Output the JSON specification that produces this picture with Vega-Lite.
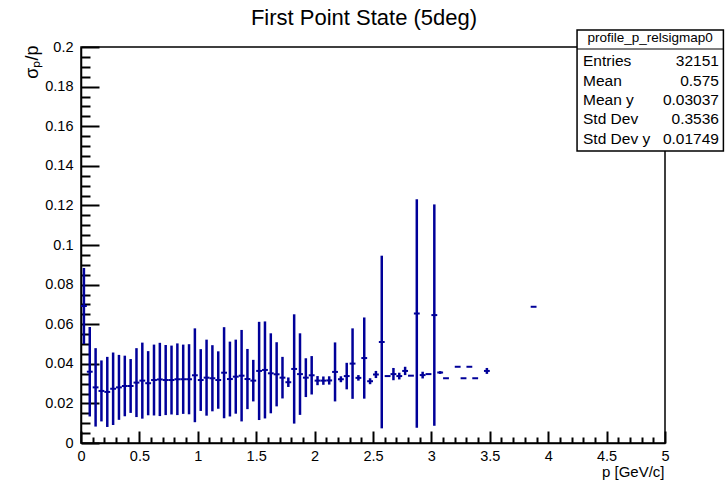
{
  "$schema": "https://vega.github.io/schema/vega-lite/v6.json",
  "width": 584,
  "height": 396,
  "autosize": "none",
  "padding": {"left": 81, "top": 47, "right": 62, "bottom": 39},
  "background": "white",
  "title": {
    "text": "First Point State (5deg)",
    "font": "Liberation Sans",
    "fontSize": 22,
    "fontWeight": "normal",
    "color": "black",
    "anchor": "middle",
    "frame": "group",
    "baseline": "alphabetic",
    "dx": -9,
    "dy": 21,
    "offset": 3
  },
  "config": {
    "font": "Liberation Sans",
    "view": {"stroke": "black", "strokeWidth": 1.5},
    "axis": {
      "grid": false,
      "labelFont": "Liberation Sans",
      "labelColor": "black",
      "titleFont": "Liberation Sans",
      "titleColor": "black",
      "titleFontWeight": "normal",
      "tickColor": "black",
      "domainColor": "black"
    }
  },
  "datasets": {
    "profile": [
      {"lo": 0.00, "hi": 0.05, "p": 0.025, "mean": 0.0692, "err": 0.0192},
      {"lo": 0.05, "hi": 0.10, "p": 0.075, "mean": 0.0360, "err": 0.0226},
      {"lo": 0.10, "hi": 0.15, "p": 0.125, "mean": 0.0281, "err": 0.0198},
      {"lo": 0.15, "hi": 0.20, "p": 0.175, "mean": 0.0263, "err": 0.0154},
      {"lo": 0.20, "hi": 0.25, "p": 0.225, "mean": 0.0258, "err": 0.0177},
      {"lo": 0.25, "hi": 0.30, "p": 0.275, "mean": 0.0274, "err": 0.0183},
      {"lo": 0.30, "hi": 0.35, "p": 0.325, "mean": 0.0281, "err": 0.0164},
      {"lo": 0.35, "hi": 0.40, "p": 0.375, "mean": 0.0288, "err": 0.0153},
      {"lo": 0.40, "hi": 0.45, "p": 0.425, "mean": 0.0288, "err": 0.0136},
      {"lo": 0.45, "hi": 0.50, "p": 0.475, "mean": 0.0305, "err": 0.0174},
      {"lo": 0.50, "hi": 0.55, "p": 0.525, "mean": 0.0315, "err": 0.0192},
      {"lo": 0.55, "hi": 0.60, "p": 0.575, "mean": 0.0302, "err": 0.0162},
      {"lo": 0.60, "hi": 0.65, "p": 0.625, "mean": 0.0318, "err": 0.0179},
      {"lo": 0.65, "hi": 0.70, "p": 0.675, "mean": 0.0321, "err": 0.0185},
      {"lo": 0.70, "hi": 0.75, "p": 0.725, "mean": 0.0318, "err": 0.0177},
      {"lo": 0.75, "hi": 0.80, "p": 0.775, "mean": 0.0318, "err": 0.0174},
      {"lo": 0.80, "hi": 0.85, "p": 0.825, "mean": 0.0322, "err": 0.0181},
      {"lo": 0.85, "hi": 0.90, "p": 0.875, "mean": 0.0322, "err": 0.0175},
      {"lo": 0.90, "hi": 0.95, "p": 0.925, "mean": 0.0322, "err": 0.0177},
      {"lo": 0.95, "hi": 1.00, "p": 0.975, "mean": 0.0342, "err": 0.0237},
      {"lo": 1.00, "hi": 1.05, "p": 1.025, "mean": 0.0318, "err": 0.0156},
      {"lo": 1.05, "hi": 1.10, "p": 1.075, "mean": 0.0330, "err": 0.0192},
      {"lo": 1.10, "hi": 1.15, "p": 1.125, "mean": 0.0327, "err": 0.0167},
      {"lo": 1.15, "hi": 1.20, "p": 1.175, "mean": 0.0318, "err": 0.0145},
      {"lo": 1.20, "hi": 1.25, "p": 1.225, "mean": 0.0355, "err": 0.0230},
      {"lo": 1.25, "hi": 1.30, "p": 1.275, "mean": 0.0323, "err": 0.0189},
      {"lo": 1.30, "hi": 1.35, "p": 1.325, "mean": 0.0335, "err": 0.0187},
      {"lo": 1.35, "hi": 1.40, "p": 1.375, "mean": 0.0340, "err": 0.0231},
      {"lo": 1.40, "hi": 1.45, "p": 1.425, "mean": 0.0323, "err": 0.0152},
      {"lo": 1.45, "hi": 1.50, "p": 1.475, "mean": 0.0315, "err": 0.0105},
      {"lo": 1.50, "hi": 1.55, "p": 1.525, "mean": 0.0364, "err": 0.0248},
      {"lo": 1.55, "hi": 1.60, "p": 1.575, "mean": 0.0369, "err": 0.0245},
      {"lo": 1.60, "hi": 1.65, "p": 1.625, "mean": 0.0352, "err": 0.0202},
      {"lo": 1.65, "hi": 1.70, "p": 1.675, "mean": 0.0347, "err": 0.0162},
      {"lo": 1.70, "hi": 1.75, "p": 1.725, "mean": 0.0330, "err": 0.0105},
      {"lo": 1.75, "hi": 1.80, "p": 1.775, "mean": 0.0307, "err": 0.0024},
      {"lo": 1.80, "hi": 1.85, "p": 1.825, "mean": 0.0374, "err": 0.0276},
      {"lo": 1.85, "hi": 1.90, "p": 1.875, "mean": 0.0348, "err": 0.0206},
      {"lo": 1.90, "hi": 1.95, "p": 1.925, "mean": 0.0330, "err": 0.0098},
      {"lo": 1.95, "hi": 2.00, "p": 1.975, "mean": 0.0342, "err": 0.0097},
      {"lo": 2.00, "hi": 2.05, "p": 2.025, "mean": 0.0315, "err": 0.0023},
      {"lo": 2.05, "hi": 2.10, "p": 2.075, "mean": 0.0315, "err": 0.0021},
      {"lo": 2.10, "hi": 2.15, "p": 2.125, "mean": 0.0316, "err": 0.0021},
      {"lo": 2.15, "hi": 2.20, "p": 2.175, "mean": 0.0359, "err": 0.0149},
      {"lo": 2.20, "hi": 2.25, "p": 2.225, "mean": 0.0322, "err": 0.0015},
      {"lo": 2.25, "hi": 2.30, "p": 2.275, "mean": 0.0338, "err": 0.0067},
      {"lo": 2.30, "hi": 2.35, "p": 2.325, "mean": 0.0401, "err": 0.0178},
      {"lo": 2.35, "hi": 2.40, "p": 2.375, "mean": 0.0329, "err": 0.0014},
      {"lo": 2.40, "hi": 2.45, "p": 2.425, "mean": 0.0429, "err": 0.0205},
      {"lo": 2.45, "hi": 2.50, "p": 2.475, "mean": 0.0312, "err": 0.0015},
      {"lo": 2.50, "hi": 2.55, "p": 2.525, "mean": 0.0346, "err": 0.0018},
      {"lo": 2.55, "hi": 2.60, "p": 2.575, "mean": 0.0510, "err": 0.0436},
      {"lo": 2.60, "hi": 2.65, "p": 2.625, "mean": 0.0338, "err": 0.0},
      {"lo": 2.65, "hi": 2.70, "p": 2.675, "mean": 0.0348, "err": 0.0031},
      {"lo": 2.70, "hi": 2.75, "p": 2.725, "mean": 0.0338, "err": 0.0017},
      {"lo": 2.75, "hi": 2.80, "p": 2.775, "mean": 0.0364, "err": 0.0021},
      {"lo": 2.80, "hi": 2.85, "p": 2.825, "mean": 0.0340, "err": 0.0},
      {"lo": 2.85, "hi": 2.90, "p": 2.875, "mean": 0.0654, "err": 0.0577},
      {"lo": 2.90, "hi": 2.95, "p": 2.925, "mean": 0.0343, "err": 0.0017},
      {"lo": 2.95, "hi": 3.00, "p": 2.975, "mean": 0.0348, "err": 0.0},
      {"lo": 3.00, "hi": 3.05, "p": 3.025, "mean": 0.0646, "err": 0.0559},
      {"lo": 3.05, "hi": 3.10, "p": 3.075, "mean": 0.0356, "err": 0.0007},
      {"lo": 3.10, "hi": 3.15, "p": 3.125, "mean": 0.0327, "err": 0.0},
      {"lo": 3.20, "hi": 3.25, "p": 3.225, "mean": 0.0385, "err": 0.0},
      {"lo": 3.25, "hi": 3.30, "p": 3.275, "mean": 0.0327, "err": 0.0},
      {"lo": 3.30, "hi": 3.35, "p": 3.325, "mean": 0.0385, "err": 0.0},
      {"lo": 3.35, "hi": 3.40, "p": 3.375, "mean": 0.0327, "err": 0.0},
      {"lo": 3.45, "hi": 3.50, "p": 3.475, "mean": 0.0364, "err": 0.0015},
      {"lo": 3.85, "hi": 3.90, "p": 3.875, "mean": 0.0688, "err": 0.0}
    ],
    "stats": [
      {"k": 1, "name": "Entries", "value": "32151"},
      {"k": 2, "name": "Mean", "value": "0.575"},
      {"k": 3, "name": "Mean y", "value": "0.03037"},
      {"k": 4, "name": "Std Dev", "value": "0.3536"},
      {"k": 5, "name": "Std Dev y", "value": "0.01749"}
    ]
  },
  "layer": [
    {
      "layer": [
        {
          "data": {"name": "profile"},
          "mark": {"type": "errorbar", "ticks": false, "color": "#000099", "thickness": 2.5},
          "encoding": {
            "x": {
              "field": "p", "type": "quantitative",
              "scale": {"domain": [0, 5], "nice": false, "zero": false},
              "axis": {
                "orient": "bottom",
                "values": [0, 0.5, 1, 1.5, 2, 2.5, 3, 3.5, 4, 4.5, 5],
                "format": ".1~f",
                "tickSize": -12, "tickWidth": 2,
                "domainWidth": 1.5,
                "labelFontSize": 14.5, "labelPadding": 18, "labelFlush": false,
                "title": "p [GeV/c]", "titleFontSize": 15,
                "titleAnchor": "end", "titleAlign": "right", "titleBaseline": "middle",
                "titleX": 583, "titleY": 28
              }
            },
            "y": {
              "field": "mean", "type": "quantitative",
              "scale": {"domain": [0, 0.2], "nice": false, "zero": false},
              "axis": {
                "orient": "left",
                "values": [0, 0.02, 0.04, 0.06, 0.08, 0.1, 0.12, 0.14, 0.16, 0.18, 0.2],
                "format": ".2~f",
                "tickSize": -18, "tickWidth": 2,
                "domainWidth": 1.5,
                "labelFontSize": 14.5, "labelPadding": 26, "labelFlush": false,
                "title": "σₚ/p", "titleFontSize": 18,
                "titleAngle": -90, "titleAlign": "right", "titleBaseline": "middle",
                "titleX": -49, "titleY": -2
              }
            },
            "yError": {"field": "err"}
          }
        },
        {
          "data": {"name": "profile"},
          "mark": {"type": "rule", "color": "#000099", "strokeWidth": 2},
          "encoding": {
            "x": {
              "field": "lo", "type": "quantitative",
              "scale": {"domain": [0, 5], "nice": false, "zero": false},
              "axis": {
                "orient": "bottom",
                "values": [0.1, 0.2, 0.3, 0.4, 0.6, 0.7, 0.8, 0.9, 1.1, 1.2, 1.3, 1.4, 1.6, 1.7, 1.8, 1.9, 2.1, 2.2, 2.3, 2.4, 2.6, 2.7, 2.8, 2.9, 3.1, 3.2, 3.3, 3.4, 3.6, 3.7, 3.8, 3.9, 4.1, 4.2, 4.3, 4.4, 4.6, 4.7, 4.8, 4.9],
                "tickSize": -6, "tickWidth": 2,
                "labels": false, "domain": false, "title": null
              }
            },
            "x2": {"field": "hi"},
            "y": {
              "field": "mean", "type": "quantitative",
              "scale": {"domain": [0, 0.2], "nice": false, "zero": false},
              "axis": {
                "orient": "left",
                "values": [0.005, 0.01, 0.015, 0.025, 0.03, 0.035, 0.045, 0.05, 0.055, 0.065, 0.07, 0.075, 0.085, 0.09, 0.095, 0.105, 0.11, 0.115, 0.125, 0.13, 0.135, 0.145, 0.15, 0.155, 0.165, 0.17, 0.175, 0.185, 0.19, 0.195],
                "tickSize": -9, "tickWidth": 2,
                "labels": false, "domain": false, "title": null
              }
            }
          }
        },
        {
          "data": {"values": [{}]},
          "mark": {"type": "rect", "fill": "white", "stroke": "black", "strokeWidth": 1.5},
          "encoding": {
            "x": {"datum": 4.247, "type": "quantitative", "scale": {"domain": [0, 5], "nice": false, "zero": false}, "axis": null},
            "x2": {"datum": 5.5},
            "y": {"datum": 0.2086, "type": "quantitative", "scale": {"domain": [0, 0.2], "nice": false, "zero": false}, "axis": null},
            "y2": {"datum": 0.1475}
          }
        },
        {
          "data": {"values": [{}]},
          "mark": {"type": "rule", "color": "black", "strokeWidth": 1.2},
          "encoding": {
            "x": {"datum": 4.247, "type": "quantitative", "scale": {"domain": [0, 5], "nice": false, "zero": false}, "axis": null},
            "x2": {"datum": 5.5},
            "y": {"datum": 0.199, "type": "quantitative", "scale": {"domain": [0, 0.2], "nice": false, "zero": false}, "axis": null}
          }
        },
        {
          "data": {"values": [{"header": "profile_p_relsigmap0"}]},
          "mark": {"type": "text", "font": "Liberation Sans", "fontSize": 13.5, "color": "black", "align": "center", "baseline": "middle"},
          "encoding": {
            "text": {"field": "header"},
            "x": {"datum": 4.872, "type": "quantitative", "scale": {"domain": [0, 5], "nice": false, "zero": false}, "axis": null},
            "y": {"datum": 0.2043, "type": "quantitative", "scale": {"domain": [0, 0.2], "nice": false, "zero": false}, "axis": null}
          }
        }
      ],
      "resolve": {"axis": {"x": "independent", "y": "independent"}}
    },
    {
      "data": {"name": "stats"},
      "encoding": {
        "y": {"field": "k", "type": "quantitative", "scale": {"domain": [0.282, 20.59], "reverse": true, "nice": false, "zero": false}, "axis": null}
      },
      "layer": [
        {
          "mark": {"type": "text", "font": "Liberation Sans", "fontSize": 15.5, "color": "black", "align": "left", "baseline": "middle"},
          "encoding": {
            "text": {"field": "name"},
            "x": {"datum": 4.298, "type": "quantitative", "scale": {"domain": [0, 5], "nice": false, "zero": false}, "axis": null}
          }
        },
        {
          "mark": {"type": "text", "font": "Liberation Sans", "fontSize": 15.5, "color": "black", "align": "right", "baseline": "middle"},
          "encoding": {
            "text": {"field": "value"},
            "x": {"datum": 5.462, "type": "quantitative", "scale": {"domain": [0, 5], "nice": false, "zero": false}, "axis": null}
          }
        }
      ]
    }
  ],
  "resolve": {"scale": {"y": "independent"}}
}
